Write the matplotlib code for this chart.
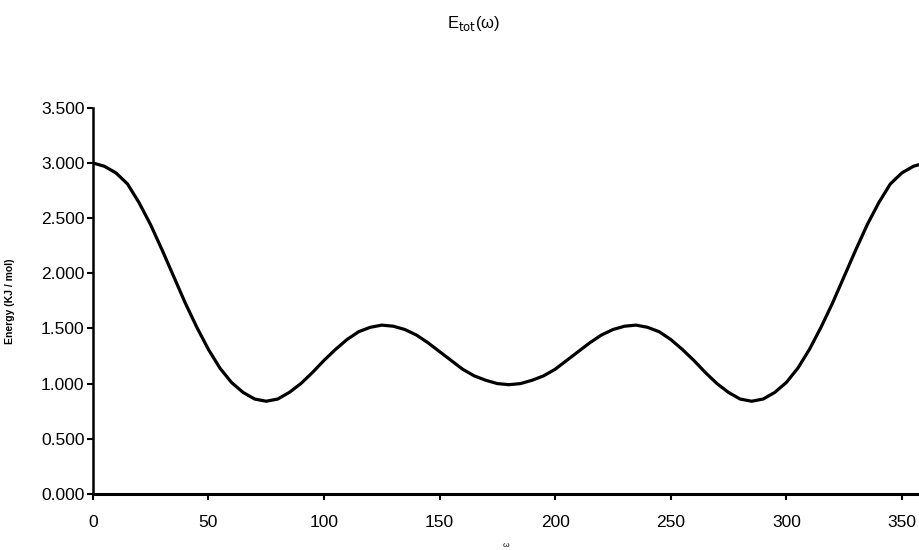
import numpy as np
import matplotlib.pyplot as plt
from matplotlib.ticker import FormatStrFormatter

plt.rcParams['font.family'] = ['Liberation Sans', 'DejaVu Sans']

# torsion angle omega (degrees) and total energy
omega = list(range(0, 365, 5))
energy = [3.00, 2.97, 2.91, 2.81, 2.64, 2.44, 2.21, 1.97, 1.73, 1.51,
          1.31, 1.14, 1.01, 0.92, 0.86, 0.84, 0.86, 0.92, 1.00, 1.10,
          1.21, 1.31, 1.40, 1.47, 1.51, 1.53, 1.52, 1.49, 1.44, 1.37,
          1.29, 1.21, 1.13, 1.07, 1.03, 1.00, 0.99,
          1.00, 1.03, 1.07, 1.13, 1.21, 1.29, 1.37, 1.44, 1.49, 1.52,
          1.53, 1.51, 1.47, 1.40, 1.31, 1.21, 1.10, 1.00, 0.92, 0.86,
          0.84, 0.86, 0.92, 1.01, 1.14, 1.31, 1.51, 1.73, 1.97, 2.21,
          2.44, 2.64, 2.81, 2.91, 2.97, 3.00]
xticks = [0, 50, 100, 150, 200, 250, 300, 350]
yticks = [0.0, 0.5, 1.0, 1.5, 2.0, 2.5, 3.0, 3.5]

fig = plt.figure(figsize=(9.19, 5.5), dpi=100)
ax = fig.add_axes([0.101, 0.102, 0.899, 0.702])

ax.plot(omega, energy, color='black', lw=2.3)

ax.set_xlim(0, 357.4)
ax.set_ylim(0, 3.5)
ax.set_xticks(xticks)
ax.set_yticks(yticks)
ax.yaxis.set_major_formatter(FormatStrFormatter('%.3f'))

for s in ['top', 'right']:
    ax.spines[s].set_visible(False)
ax.spines['left'].set_linewidth(1.8)
ax.spines['bottom'].set_linewidth(2.2)
ax.tick_params(axis='both', direction='out', length=4, width=1.5, labelsize=12.5)
ax.tick_params(axis='x', pad=11)
ax.tick_params(axis='y', pad=2)

ax.set_xlabel('ω', fontsize=6, labelpad=9)
ax.set_ylabel('Energy (KJ / mol)', fontsize=7.5, fontweight='bold', labelpad=4)
ax.yaxis.set_label_coords(-0.094, 0.5)

fig.text(0.515, 0.958, r'E$_{\mathrm{tot}}$(ω)', fontsize=12, ha='center', va='center')

plt.savefig('out.png', dpi=100)
